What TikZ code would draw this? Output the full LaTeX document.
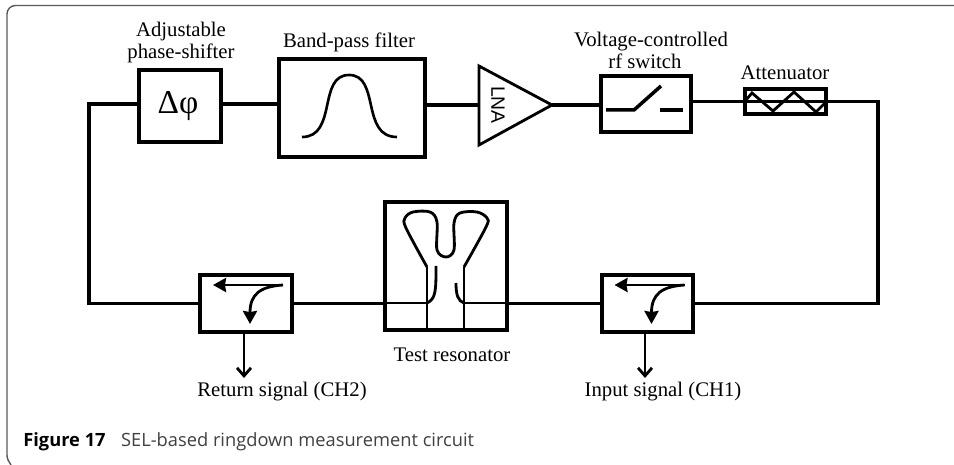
\documentclass[tikz,border=0pt]{standalone}
\usepackage{fontspec}
\setmainfont{Liberation Serif}
\newfontfamily\capfont{Open Sans}
\newfontfamily\lnafont{Liberation Sans}
\usetikzlibrary{positioning, arrows.meta}
\definecolor{captext}{gray}{.25}
\tikzset{
  block/.style={draw, line width=2.2pt, inner sep=0pt},
  wire/.style={line width=1.9pt},
  finewire/.style={line width=1.6pt},
  lbl/.style={font=\fontsize{11.8}{12.4}\selectfont, align=center, inner sep=0pt},
  caplbl/.style={font=\capfont\fontsize{10.4}{12}\selectfont, anchor=base west, inner sep=0pt, text=captext}
}

\begin{document}
\begin{tikzpicture}
\useasboundingbox (0,0) rectangle (19.08,9.3);

% Frame
\draw [line width=.8pt, black!65] (19.08,9.19) -- (.31,9.19) to[out=180, in=90] (.14,9.02) -- (.14,.2) to[out=-90, in=120] (.22,0);

% Top row
\node[block, minimum width=1.64cm, minimum height=1.44cm] (phase) at (3.6,7.18) {};
\node[block, minimum width=2.92cm, minimum height=1.96cm] (filter) at (7.04,7.14) {};
\node[block, line width=2pt, minimum width=1.8cm, minimum height=1.12cm] (switch) at (12.92,7.22) {};
\node[block, line width=2pt, minimum width=1.62cm, minimum height=.5cm] (atten) at (15.71,7.27) {};

% Phase symbol
\node[inner sep=0pt, font=\fontsize{19}{20}\selectfont] (phasesym) at (3.56,7.18) {Δφ};

% Filter curve
\draw [line width=1.5pt] (6.04,6.56) .. controls (6.75,6.56) and (6.35,7.8) .. (6.98,7.8) .. controls (7.61,7.8) and (7.21,6.56) .. (7.94,6.56);

% LNA
\coordinate (lnatop) at (9.58,7.98);
\coordinate (lnabot) at (9.58,6.4);
\coordinate (lnatip) at (11.04,7.2);
\coordinate (lnain) at (9.58,7.2);
\draw [finewire, line join=miter] (lnatop) -- (lnatip) -- (lnabot) -- cycle;
\node[rotate=-90, inner sep=0pt, font=\lnafont\fontsize{11}{12}\selectfont] (lna) at (9.96,7.2) {LNA};

% Switch
\draw [line width=2pt] (12.12,7.1) -- (12.68,7.1) -- (13.22,7.58);
\draw [line width=2pt] (13.2,7.1) -- (13.66,7.1);

% Attenuator
\draw [finewire] (14.92,7.3) -- (15.04,7.44) -- (15.46,7.08) -- (15.88,7.46) -- (16.32,7.06) -- (16.5,7.24);

% Bottom row
\node[block, minimum width=1.84cm, minimum height=1.14cm] (coupler2) at (4.92,3.23) {};
\node[block, minimum width=2.44cm, minimum height=2.56cm] (resonator) at (8.92,3.98) {};
\node[block, minimum width=1.82cm, minimum height=1.14cm] (coupler1) at (12.95,3.23) {};

% Resonator
\coordinate (legl) at (8.54,3.96);
\coordinate (legr) at (9.28,3.96);
\coordinate (feedl) at (8.54,3.24);
\coordinate (feedr) at (9.28,3.24);
\draw [finewire] plot[smooth, tension=.55] coordinates {(legl) (8.12,4.74) (8.10,4.94) (8.26,5.06) (8.60,5.06) (8.74,4.86) (8.74,4.30) (8.92,4.16) (9.08,4.30) (9.08,4.84) (9.20,5.04) (9.54,5.06) (9.74,4.94) (9.72,4.76) (legr)};
\draw [finewire] (legl) -- (legl |- resonator.south);
\draw [finewire] (legr) -- (legr |- resonator.south);
\draw [finewire] (8.72,3.98) .. controls (8.72,3.5) and (8.72,3.32) .. (feedl);
\draw [finewire] (9.12,3.64) .. controls (9.12,3.4) and (9.16,3.28) .. (feedr);
\draw [finewire] (resonator.west |- feedl) -- (feedl);
\draw [finewire] (feedr) -- (resonator.east |- feedr);

% Couplers
\foreach \c in {coupler1, coupler2} {
  \draw [shift={(\c.center)}, line width=1.6pt, -{Stealth[length=.26cm, width=.28cm, inset=.6pt]}] (.74,.37) -- (-.66,.37);
  \draw [shift={(\c.center)}, line width=1.6pt, -{Stealth[length=.26cm, width=.28cm, inset=.6pt]}] (.74,.37) .. controls (.3,.34) and (.08,.2) .. (.08,-.41);
}

% Wires
\coordinate (NW) at (1.78,7.22);
\coordinate (SW) at (1.78,3.23);
\coordinate (NE) at (17.56,7.27);
\coordinate (SE) at (17.56,3.23);
\coordinate (tap2) at (4.88,1.74);
\coordinate (tap1) at (12.9,1.74);
\draw [wire] (phase.west |- NW) -- (NW) -- (SW) -- (coupler2.west);
\draw [wire] (phase.east |- NW) -- (filter.west |- NW);
\draw [wire] (filter.east |- lnain) -- (lnain);
\draw [wire] (lnatip) -- (switch.west |- lnatip);
\draw [wire] (switch.east |- atten.east) -- (atten.east);
\draw [wire] (atten.east) -- (NE) -- (SE) -- (coupler1.east);
\draw [wire] (coupler2.east) -- (resonator.west |- coupler2.east);
\draw [wire] (coupler1.west) -- (resonator.east |- coupler1.west);

% Arrows
\draw [finewire, -{Straight Barb[length=.16cm, width=.28cm]}] (coupler2.south -| tap2) -- (tap2);
\draw [finewire, -{Straight Barb[length=.16cm, width=.28cm]}] (coupler1.south -| tap1) -- (tap1);

% Labels
\node[lbl] (phaselbl) at (3.62,8.45) {Adjustable\\phase-shifter};
\node[lbl] (filterlbl) at (6.98,8.46) {Band-pass filter};
\node[lbl] (switchlbl) at (13.02,8.29) {Voltage-controlled\\rf switch\hspace*{.24cm}};
\node[lbl] (attenlbl) at (15.7,7.84) {Attenuator};
\node[lbl] (resonatorlbl) at (9.04,2.2) {Test resonator};
\node[lbl] (returnlbl) at (5.64,1.46) {Return signal (CH2)};
\node[lbl] (inputlbl) at (13.26,1.46) {Input signal (CH1)};

% Caption
\node[caplbl] (caption) at (.46,.37) {\textbf{\textcolor{black}{Figure 17}}\hspace{.85em}SEL-based ringdown measurement circuit};

\end{tikzpicture}
\end{document}
